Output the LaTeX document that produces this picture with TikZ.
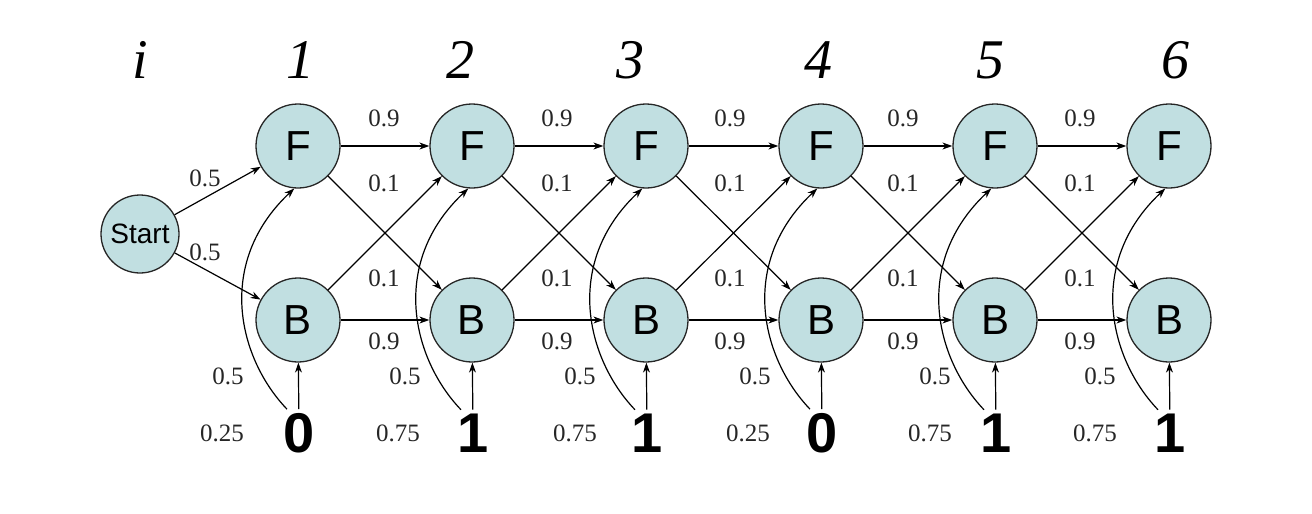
\documentclass[tikz,border=0pt]{standalone}
\usepackage{fontspec}
\setmainfont{Liberation Serif}
\setsansfont{Liberation Sans}
\usepackage{tikz}
\usetikzlibrary{arrows.meta}
\definecolor{statefill}{RGB}{193,223,225}

\tikzset{
  state/.style={circle, draw=black!85, line width=1.3pt, fill=statefill, minimum size=84pt, inner sep=0pt, font=\sffamily\fontsize{42}{42}\selectfont},
  startstate/.style={state, minimum size=78pt, font=\sffamily\fontsize{28}{28}\selectfont},
  obs/.style={inner sep=0pt, outer sep=4pt, font=\sffamily\bfseries\fontsize{56}{56}\selectfont},
  hdr/.style={font=\itshape\fontsize{56}{56}\selectfont},
  prob/.style={font=\fontsize{25}{25}\selectfont, text=black!85},
  trans/.style={-{Stealth[length=10pt,width=7pt]}, line width=1.2pt},
}

\begin{document}
\begin{tikzpicture}[x=1pt,y=-1pt]
  \useasboundingbox (0,0) rectangle (1312,514);
  % position labels
  \node[hdr] (h0) at (140,60) {i};
  \node[hdr] (h1) at (300,60) {1};
  \node[hdr] (h2) at (460,60) {2};
  \node[hdr] (h3) at (630,60) {3};
  \node[hdr] (h4) at (818,60) {4};
  \node[hdr] (h5) at (990,60) {5};
  \node[hdr] (h6) at (1175,60) {6};
  % states
  \node[startstate] (start) at (140,234) {Start};
  \node[state] (f1) at (298,146) {F};
  \node[state] (f2) at (472,146) {F};
  \node[state] (f3) at (646,146) {F};
  \node[state] (f4) at (821,146) {F};
  \node[state] (f5) at (995,146) {F};
  \node[state] (f6) at (1169,146) {F};
  \node[state] (b1) at (298,320) {B};
  \node[state] (b2) at (472,320) {B};
  \node[state] (b3) at (646,320) {B};
  \node[state] (b4) at (821,320) {B};
  \node[state] (b5) at (995,320) {B};
  \node[state] (b6) at (1169,320) {B};
  % observed symbols
  \node[obs] (o1) at (299,433) {0};
  \node[obs] (o2) at (473,433) {1};
  \node[obs] (o3) at (647,433) {1};
  \node[obs] (o4) at (822,433) {0};
  \node[obs] (o5) at (996,433) {1};
  \node[obs] (o6) at (1170,433) {1};
  % transitions
  \draw[trans] (start) -- (f1);
  \draw[trans] (start) -- (b1);
  \node[prob] (ps1) at (205,178) {0.5};
  \node[prob] (ps2) at (205,252) {0.5};
  \draw[trans] (f1) -- (f2);
  \draw[trans] (f2) -- (f3);
  \draw[trans] (f3) -- (f4);
  \draw[trans] (f4) -- (f5);
  \draw[trans] (f5) -- (f6);
  \draw[trans] (b1) -- (b2);
  \draw[trans] (b2) -- (b3);
  \draw[trans] (b3) -- (b4);
  \draw[trans] (b4) -- (b5);
  \draw[trans] (b5) -- (b6);
  \draw[trans] (f1) -- (b2);
  \draw[trans] (f2) -- (b3);
  \draw[trans] (f3) -- (b4);
  \draw[trans] (f4) -- (b5);
  \draw[trans] (f5) -- (b6);
  \draw[trans] (b1) -- (f2);
  \draw[trans] (b2) -- (f3);
  \draw[trans] (b3) -- (f4);
  \draw[trans] (b4) -- (f5);
  \draw[trans] (b5) -- (f6);
  % transition probabilities
  \node[prob] (pff1) at (384,118) {0.9};
  \node[prob] (pfb1) at (384,183) {0.1};
  \node[prob] (pbf1) at (384,278) {0.1};
  \node[prob] (pbb1) at (384,341) {0.9};
  \node[prob] (pff2) at (557,118) {0.9};
  \node[prob] (pfb2) at (557,183) {0.1};
  \node[prob] (pbf2) at (557,278) {0.1};
  \node[prob] (pbb2) at (557,341) {0.9};
  \node[prob] (pff3) at (730,118) {0.9};
  \node[prob] (pfb3) at (730,183) {0.1};
  \node[prob] (pbf3) at (730,278) {0.1};
  \node[prob] (pbb3) at (730,341) {0.9};
  \node[prob] (pff4) at (903,118) {0.9};
  \node[prob] (pfb4) at (903,183) {0.1};
  \node[prob] (pbf4) at (903,278) {0.1};
  \node[prob] (pbb4) at (903,341) {0.9};
  \node[prob] (pff5) at (1080,118) {0.9};
  \node[prob] (pfb5) at (1080,183) {0.1};
  \node[prob] (pbf5) at (1080,278) {0.1};
  \node[prob] (pbb5) at (1080,341) {0.9};
  % emissions
  \draw[trans] (o1) -- (b1);
  \draw[trans] (o2) -- (b2);
  \draw[trans] (o3) -- (b3);
  \draw[trans] (o4) -- (b4);
  \draw[trans] (o5) -- (b5);
  \draw[trans] (o6) -- (b6);
  \draw[trans] ([xshift=-12pt]o1.north) .. controls +(-48,-50) and +(-80,75) .. (f1.-95);
  \draw[trans] ([xshift=-12pt]o2.north) .. controls +(-48,-50) and +(-80,75) .. (f2.-95);
  \draw[trans] ([xshift=-12pt]o3.north) .. controls +(-48,-50) and +(-80,75) .. (f3.-95);
  \draw[trans] ([xshift=-12pt]o4.north) .. controls +(-48,-50) and +(-80,75) .. (f4.-95);
  \draw[trans] ([xshift=-12pt]o5.north) .. controls +(-48,-50) and +(-80,75) .. (f5.-95);
  \draw[trans] ([xshift=-12pt]o6.north) .. controls +(-48,-50) and +(-80,75) .. (f6.-95);
  % emission probabilities
  \node[prob] (pe1) at (228,376) {0.5};
  \node[prob] (pe2) at (405,376) {0.5};
  \node[prob] (pe3) at (580,376) {0.5};
  \node[prob] (pe4) at (755,376) {0.5};
  \node[prob] (pe5) at (935,376) {0.5};
  \node[prob] (pe6) at (1100,376) {0.5};
  \node[prob] (pq1) at (222,433) {0.25};
  \node[prob] (pq2) at (398,433) {0.75};
  \node[prob] (pq3) at (575,433) {0.75};
  \node[prob] (pq4) at (748,433) {0.25};
  \node[prob] (pq5) at (930,433) {0.75};
  \node[prob] (pq6) at (1095,433) {0.75};
\end{tikzpicture}
\end{document}
